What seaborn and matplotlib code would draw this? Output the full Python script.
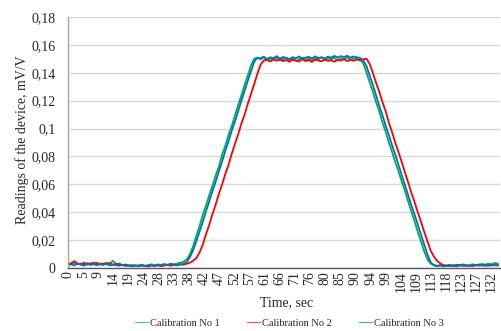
import numpy as np
import pandas as pd
import matplotlib
matplotlib.use("Agg")
import matplotlib.pyplot as plt
import seaborn as sns

time_sec = list(range(0, 135))

calib_1 = [
    0.0030, 0.0024, 0.0038, 0.0027, 0.0033, 0.0022, 0.0036, 0.0029, 0.0041, 0.0026,
    0.0034, 0.0028, 0.0039, 0.0031, 0.0052, 0.0027, 0.0033, 0.0021, 0.0025, 0.0018,
    0.0022, 0.0015, 0.0019, 0.0024, 0.0016, 0.0021, 0.0027, 0.0019, 0.0025, 0.0022,
    0.0028, 0.0023, 0.0031, 0.0026, 0.0033, 0.0038, 0.0045, 0.0062, 0.0098, 0.0158,
    0.0232, 0.0301, 0.0384, 0.0448, 0.0523, 0.0589, 0.0664, 0.0727, 0.0812, 0.0876,
    0.0953, 0.1018, 0.1094, 0.1168, 0.1236, 0.1312, 0.1379, 0.1452, 0.1501, 0.1508,
    0.1496, 0.1512, 0.1489, 0.1503, 0.1494, 0.1510, 0.1487, 0.1499, 0.1506, 0.1491,
    0.1502, 0.1485, 0.1497, 0.1509, 0.1493, 0.1501, 0.1488, 0.1504, 0.1496, 0.1511,
    0.1492, 0.1503, 0.1498, 0.1507, 0.1490, 0.1505, 0.1497, 0.1510, 0.1494, 0.1502,
    0.1499, 0.1496, 0.1468, 0.1402, 0.1331, 0.1263, 0.1187, 0.1121, 0.1043, 0.0974,
    0.0898, 0.0832, 0.0757, 0.0691, 0.0618, 0.0552, 0.0476, 0.0403, 0.0334, 0.0258,
    0.0189, 0.0118, 0.0062, 0.0031, 0.0022, 0.0016, 0.0021, 0.0014, 0.0019, 0.0023,
    0.0017, 0.0024, 0.0019, 0.0026, 0.0021, 0.0018, 0.0027, 0.0022, 0.0025, 0.0029,
    0.0024, 0.0031, 0.0027, 0.0036, 0.0030,
]

calib_2 = [
    0.0028, 0.0035, 0.0049, 0.0031, 0.0026, 0.0038, 0.0024, 0.0033, 0.0029, 0.0037,
    0.0025, 0.0032, 0.0027, 0.0034, 0.0022, 0.0029, 0.0024, 0.0019, 0.0023, 0.0016,
    0.0014, 0.0020, 0.0013, 0.0018, 0.0015, 0.0011, 0.0017, 0.0014, 0.0019, 0.0013,
    0.0018, 0.0022, 0.0016, 0.0024, 0.0019, 0.0027, 0.0023, 0.0031, 0.0038, 0.0052,
    0.0071, 0.0112, 0.0168, 0.0243, 0.0309, 0.0386, 0.0454, 0.0531, 0.0598, 0.0673,
    0.0738, 0.0817, 0.0889, 0.0957, 0.1034, 0.1098, 0.1176, 0.1247, 0.1318, 0.1392,
    0.1458, 0.1488, 0.1493, 0.1481, 0.1496, 0.1486, 0.1499, 0.1483, 0.1492, 0.1479,
    0.1494, 0.1487, 0.1481, 0.1497, 0.1484, 0.1491, 0.1478, 0.1495, 0.1488, 0.1482,
    0.1496, 0.1485, 0.1490, 0.1479, 0.1493, 0.1487, 0.1498, 0.1484, 0.1492, 0.1486,
    0.1495, 0.1489, 0.1497, 0.1501, 0.1463, 0.1398, 0.1327, 0.1262, 0.1188, 0.1123,
    0.1041, 0.0972, 0.0897, 0.0829, 0.0758, 0.0684, 0.0613, 0.0539, 0.0472, 0.0398,
    0.0331, 0.0259, 0.0192, 0.0124, 0.0082, 0.0051, 0.0032, 0.0021, 0.0016, 0.0019,
    0.0013, 0.0018, 0.0022, 0.0015, 0.0019, 0.0014, 0.0021, 0.0017, 0.0023, 0.0018,
    0.0020, 0.0016, 0.0022, 0.0019, 0.0021,
]

calib_3 = [
    0.0021, 0.0029, 0.0018, 0.0033, 0.0024, 0.0017, 0.0031, 0.0022, 0.0027, 0.0019,
    0.0028, 0.0021, 0.0030, 0.0018, 0.0025, 0.0020, 0.0016, 0.0023, 0.0014, 0.0019,
    0.0012, 0.0017, 0.0014, 0.0020, 0.0013, 0.0018, 0.0022, 0.0016, 0.0024, 0.0019,
    0.0026, 0.0021, 0.0028, 0.0023, 0.0019, 0.0025, 0.0029, 0.0043, 0.0078, 0.0129,
    0.0193, 0.0262, 0.0331, 0.0408, 0.0476, 0.0552, 0.0618, 0.0693, 0.0762, 0.0839,
    0.0908, 0.0983, 0.1049, 0.1124, 0.1198, 0.1268, 0.1341, 0.1409, 0.1478, 0.1509,
    0.1502, 0.1516, 0.1498, 0.1511, 0.1505, 0.1519, 0.1501, 0.1513, 0.1507, 0.1498,
    0.1512, 0.1504, 0.1517, 0.1500, 0.1509, 0.1514, 0.1503, 0.1518, 0.1506, 0.1511,
    0.1502, 0.1516, 0.1508, 0.1521, 0.1510, 0.1519, 0.1513, 0.1522, 0.1509, 0.1517,
    0.1511, 0.1506, 0.1489, 0.1448, 0.1379, 0.1312, 0.1236, 0.1162, 0.1094, 0.1019,
    0.0951, 0.0878, 0.0812, 0.0737, 0.0664, 0.0593, 0.0521, 0.0448, 0.0382, 0.0309,
    0.0238, 0.0168, 0.0096, 0.0041, 0.0019, 0.0013, 0.0018, 0.0011, 0.0016, 0.0014,
    0.0019, 0.0012, 0.0017, 0.0021, 0.0015, 0.0019, 0.0013, 0.0022, 0.0017, 0.0020,
    0.0016, 0.0023, 0.0018, 0.0021, 0.0017,
]

series_names = ["Calibration No 1", "Calibration No 2", "Calibration No 3"]
series_colors = ["#00B050", "#FF0000", "#0070C0"]

x_tick_labels = ["0", "5", "9", "14", "19", "24", "28", "33", "38", "42", "47",
                 "52", "57", "61", "66", "71", "76", "80", "85", "90", "94", "99",
                 "104", "109", "113", "118", "123", "127", "132"]
y_tick_values = [0, 0.02, 0.04, 0.06, 0.08, 0.10, 0.12, 0.14, 0.16, 0.18]
y_tick_labels = ["0", "0,02", "0,04", "0,06", "0,08", "0,1", "0,12", "0,14",
                 "0,16", "0,18"]

frames = []
for name, vals in zip(series_names, [calib_1, calib_2, calib_3]):
    frames.append(pd.DataFrame({"t": time_sec, "v": vals, "series": name}))
df = pd.concat(frames, ignore_index=True)

sns.set_theme(style="white")
plt.rcParams["font.family"] = ["Liberation Serif", "DejaVu Serif"]

fig = plt.figure(figsize=(5.02, 3.31), dpi=100)
ax = fig.add_axes([68 / 502, 1 - 268 / 331, 432 / 502, 251 / 331])

sns.lineplot(data=df, x="t", y="v", hue="series", hue_order=series_names,
             palette=series_colors, linewidth=1.3, ax=ax, legend=True,
             estimator=None, sort=False)

ax.set_xlim(0, 134.6)
ax.set_ylim(0, 0.18)
ax.set_yticks(y_tick_values)
ax.set_yticklabels(y_tick_labels, fontsize=10, color="#262626")
ax.set_xticks(np.linspace(0, 132, len(x_tick_labels)))
ax.set_xticklabels(x_tick_labels, rotation=90, fontsize=10, color="#262626")
ax.tick_params(axis="y", length=0, pad=9)
ax.tick_params(axis="x", length=0, pad=2)
ax.yaxis.grid(True, color="#D9D9D9", linewidth=1.0)
ax.xaxis.grid(False)
ax.set_axisbelow(True)
for s in ["top", "right"]:
    ax.spines[s].set_visible(False)
ax.spines["left"].set_color("#A6A6A6")
ax.spines["left"].set_linewidth(1.0)
ax.spines["bottom"].set_color("#595959")
ax.spines["bottom"].set_linewidth(1.0)
ax.set_xlabel("")
ax.set_ylabel("")

fig.text(22 / 502, 1 - 140 / 331, "Readings of the device, mV/V", rotation=90,
         ha="center", va="center", fontsize=10, color="#262626")
fig.text(287 / 502, 1 - 303 / 331, "Time, sec", ha="center", va="center",
         fontsize=10, color="#262626")

handles, labels = ax.get_legend_handles_labels()
ax.get_legend().remove()
leg = fig.legend(handles, labels, loc="center",
                 bbox_to_anchor=(289 / 502, 1 - 323 / 331),
                 ncol=3, frameon=False, fontsize=7.5, handlelength=1.25,
                 handletextpad=0.2, columnspacing=2.6, borderpad=0)
for line in leg.get_lines():
    line.set_linewidth(0.8)
    line.set_alpha(0.7)

fig.savefig("out.png", dpi=100)
